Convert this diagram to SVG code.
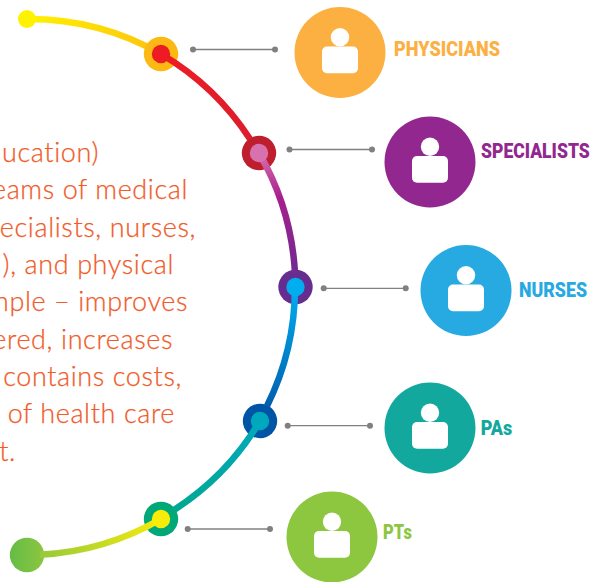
<svg xmlns="http://www.w3.org/2000/svg" width="591" height="582" viewBox="0 0 591 582">
<style>
.body{font-family:"Lato","Liberation Sans",sans-serif;font-weight:300;font-size:27px;letter-spacing:.6px;fill:#F15A29;stroke:#F15A29;stroke-width:.25;text-anchor:end}
.lab{font-family:"Roboto","Liberation Sans",sans-serif;font-weight:900;font-size:20px}
.seg{fill:none;stroke-width:6.5}
.lead{stroke:#808080;stroke-width:1.3}
.dot{fill:#808080}
.ic{fill:#fff}
</style>
<defs>
<linearGradient id="g1" gradientUnits="userSpaceOnUse" x1="27" y1="19" x2="161" y2="54"><stop offset="0" stop-color="#FFF200"/><stop offset="1" stop-color="#FDC20E"/></linearGradient>
<linearGradient id="g2" gradientUnits="userSpaceOnUse" x1="161" y1="54" x2="259" y2="153"><stop offset="0" stop-color="#ED1C24"/><stop offset="1" stop-color="#D91E2E"/></linearGradient>
<linearGradient id="g3" gradientUnits="userSpaceOnUse" x1="259" y1="153" x2="295" y2="287"><stop offset="0" stop-color="#D872AE"/><stop offset=".35" stop-color="#A71F8E"/><stop offset="1" stop-color="#662D91"/></linearGradient>
<linearGradient id="g4" gradientUnits="userSpaceOnUse" x1="295" y1="287" x2="260" y2="421"><stop offset="0" stop-color="#00AEEF"/><stop offset="1" stop-color="#0054A6"/></linearGradient>
<linearGradient id="g5" gradientUnits="userSpaceOnUse" x1="260" y1="421" x2="161" y2="519"><stop offset="0" stop-color="#00A8BD"/><stop offset="1" stop-color="#00A88A"/></linearGradient>
<linearGradient id="g6" gradientUnits="userSpaceOnUse" x1="161" y1="519" x2="27" y2="555"><stop offset="0" stop-color="#F7EC0A"/><stop offset="1" stop-color="#8DC63F"/></linearGradient>
<linearGradient id="g7" gradientUnits="userSpaceOnUse" x1="10" y1="555" x2="45" y2="555"><stop offset="0" stop-color="#65BC46"/><stop offset="1" stop-color="#8DC63F"/></linearGradient>
<g id="person"><circle class="ic" cx="0" cy="-15.3" r="9.2"/><rect class="ic" x="-18" y="-6" width="36" height="26.7" rx="5"/></g>
</defs>
<g id="description">
<text class="body" x="99" y="162">ucation)</text>
<text class="body" x="188" y="199">eams of medical</text>
<text class="body" x="196" y="237">ecialists, nurses,</text>
<text class="body" x="174" y="274">), and physical</text>
<text class="body" x="188" y="311">mple – improves</text>
<text class="body" x="173" y="349">ered, increases</text>
<text class="body" x="182" y="386">contains costs,</text>
<text class="body" x="175" y="423">t of health care</text>
<text class="body" x="16" y="461">t.</text>
</g>
<g id="connectors">
<path class="seg" stroke="url(#g1)" d="M27 19A268 268 0 0 1 161 54"/>
<g><line class="lead" x1="193" y1="49.500" x2="275" y2="49.500"/><circle class="dot" cx="193" cy="49.500" r="3"/><circle class="dot" cx="275" cy="49.500" r="3"/></g>
<g><line class="lead" x1="289.500" y1="149.500" x2="372" y2="149.500"/><circle class="dot" cx="289.500" cy="149.500" r="3"/><circle class="dot" cx="372" cy="149.500" r="3"/></g>
<g><line class="lead" x1="323.700" y1="288.300" x2="405.700" y2="288.300"/><circle class="dot" cx="323.700" cy="288.300" r="3"/><circle class="dot" cx="405.700" cy="288.300" r="3"/></g>
<g><line class="lead" x1="287.700" y1="425.700" x2="370" y2="425.700"/><circle class="dot" cx="287.700" cy="425.700" r="3"/><circle class="dot" cx="370" cy="425.700" r="3"/></g>
<g><line class="lead" x1="187.700" y1="529" x2="270" y2="529"/><circle class="dot" cx="187.700" cy="529" r="3"/><circle class="dot" cx="270" cy="529" r="3"/></g>
</g>
<g id="arc-nodes">
<circle id="start" cx="27" cy="19" r="9" fill="#FFF200"/>
<circle id="end" cx="27" cy="555" r="17.200" fill="url(#g7)"/>
<circle cx="161" cy="54" r="17.200" fill="#FDB913"/>
<circle cx="259" cy="153" r="17.200" fill="#BE1E2D"/>
<circle cx="295.500" cy="287" r="17.200" fill="#662D91"/>
<circle cx="260" cy="421" r="17.200" fill="#0054A6"/>
<circle cx="161" cy="519" r="17.200" fill="#00A878"/>
<path class="seg" stroke="url(#g2)" d="M161 54A268 268 0 0 1 250 139"/>
<path class="seg" stroke="url(#g3)" d="M259 153A268 268 0 0 1 295 273"/>
<path class="seg" stroke="url(#g4)" d="M295 287A268 268 0 0 1 267 406"/>
<path class="seg" stroke="url(#g5)" d="M260 421A268 268 0 0 1 174 510"/>
<path class="seg" stroke="url(#g6)" d="M161 519A268 268 0 0 1 40 554.700"/>
<circle cx="161" cy="54" r="9.200" fill="#ED1C24"/>
<circle cx="259" cy="153" r="9.200" fill="#D872AE"/>
<circle cx="295.500" cy="287" r="9.200" fill="#00AEEF"/>
<circle cx="260" cy="421" r="9.200" fill="#00A8BD"/>
<circle cx="161" cy="519" r="9.200" fill="#F7EC0A"/>
</g>
<g id="physicians"><circle cx="340" cy="52.500" r="45.500" fill="#FDB042"/><use href="#person" x="340" y="52.500"/><text class="lab" fill="#FDB042" transform="translate(394 55.500) scale(.8 1)" textLength="132.500" lengthAdjust="spacingAndGlyphs">PHYSICIANS</text></g>
<g id="specialists"><circle cx="430" cy="162" r="45.500" fill="#92278F"/><use href="#person" x="430" y="162"/><text class="lab" fill="#92278F" transform="translate(481 157.500) scale(.8 1)" textLength="136" lengthAdjust="spacingAndGlyphs">SPECIALISTS</text></g>
<g id="nurses"><circle cx="466" cy="290.500" r="45.500" fill="#27AAE1"/><use href="#person" x="466" y="290.500"/><text class="lab" fill="#27AAE1" transform="translate(519 296.700) scale(.8 1)" textLength="85" lengthAdjust="spacingAndGlyphs">NURSES</text></g>
<g id="pas"><circle cx="430" cy="428" r="45.500" fill="#13A89E"/><use href="#person" x="430" y="428"/><text class="lab" fill="#13A89E" transform="translate(480.700 435) scale(.8 1)" textLength="39.400" lengthAdjust="spacingAndGlyphs">PAs</text></g>
<g id="pts"><circle cx="332" cy="537" r="45.500" fill="#8DC63F"/><use href="#person" x="332" y="537"/><text class="lab" fill="#8DC63F" transform="translate(383 539) scale(.8 1)" textLength="36.200" lengthAdjust="spacingAndGlyphs">PTs</text></g>
</svg>
